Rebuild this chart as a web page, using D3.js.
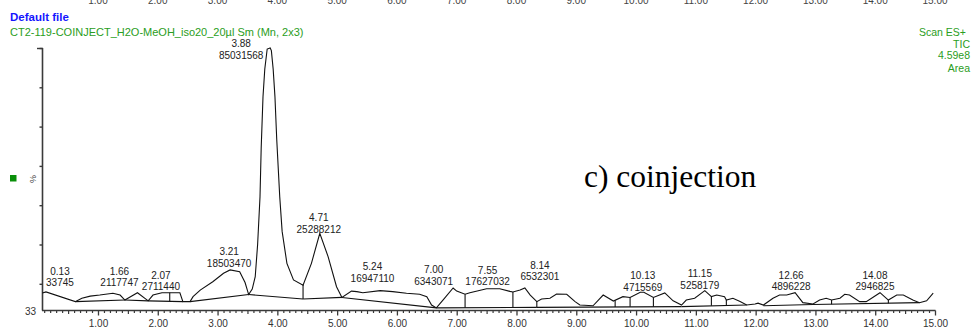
<!DOCTYPE html>
<html><head><meta charset="utf-8">
<script src="https://cdn.jsdelivr.net/npm/d3@7"></script>
<style>body{margin:0;background:#fff}svg{display:block}</style>
</head><body>
<svg id="c" width="973" height="329"></svg>
<script>
// ---- data (retention time in min, relative intensity in %) ----
const traceTimes = [0.07,0.13,0.62,0.73,0.87,1.03,1.25,1.37,1.45,1.66,1.84,1.92,2.07,2.37,2.42,2.54,2.59,2.71,2.92,3.10,3.21,3.37,3.46,3.52,
  3.58,3.63,3.67,3.71,3.73,3.76,3.79,3.83,3.88,3.90,3.93,3.96,3.99,4.04,4.08,4.16,4.27,4.43,4.57,4.71,4.85,4.99,5.08,5.24,5.33,5.43,5.72,5.93,
  6.16,6.38,6.50,6.58,6.66,6.77,6.94,7.00,7.14,7.22,7.50,7.72,7.89,7.94,8.06,8.14,8.23,8.34,8.42,8.56,8.67,8.84,8.98,9.06,9.28,9.45,9.62,9.78,
  9.90,10.07,10.13,10.29,10.48,10.62,10.76,10.84,10.98,11.15,11.26,11.35,11.48,11.51,11.62,11.74,11.85,11.99,12.04,12.13,12.29,12.40,12.52,12.66,
  12.79,12.96,13.07,13.18,13.27,13.41,13.49,13.57,13.74,13.85,14.08,14.22,14.36,14.47,14.63,14.74,14.86,14.97];
const traceIntensity = [6.5,6.9,3.2,4.5,5.3,5.7,6.4,5.7,3.8,6.6,3.5,5.7,6.6,6.6,3.2,3.2,5.1,7.6,10.8,14.0,15.3,14.6,10.5,5.9,
  8.0,12.7,25.0,43.2,62.0,81.4,92.0,99.6,100,99.0,92.0,81.4,65.0,43.2,30.0,17.8,11.5,9.5,17.8,29.3,20.3,8.9,4.8,7.2,7.0,6.6,7.4,7.0,
  6.4,6.0,5.1,1.9,0.8,3.8,8.4,7.2,6.0,6.6,8.1,8.1,7.1,6.9,7.6,8.4,5.7,3.2,4.2,4.5,6.1,6.0,3.2,1.9,1.6,5.7,3.4,5.1,
  4.8,6.8,6.8,4.8,6.5,3.5,1.9,3.8,4.5,7.4,5.1,5.7,5.1,3.8,4.5,3.2,1.9,2.3,2.6,1.9,4.5,5.7,5.7,6.6,
  2.8,2.3,3.8,4.5,3.8,4.5,6.0,5.7,3.2,3.2,6.6,3.8,5.7,5.7,3.8,2.8,3.5,6.4];

// integration baselines: [start time, start %, end time, end %]
const baselineStart = [0.62,1.45,1.84,2.54,3.52,4.43,5.08,6.66,8.34,10.76,12.13,12.96];
const baselineStartI = [3.2,3.8,3.5,3.2,5.9,4.2,4.8,0.8,1.0,1.3,1.6,2.1];
const baselineEnd = [1.45,1.84,2.42,3.52,4.43,5.08,6.66,8.34,10.76,11.85,12.96,14.74];
const baselineEndI = [3.8,3.5,3.2,5.9,4.2,4.8,0.8,1.0,1.3,1.9,2.1,2.8];
// peak separation drop-line times
const dropTimes = [2.20,4.43,7.14,7.94,8.34,9.65,9.90,10.29,11.26,11.51,13.27,14.22];

// labelled peaks
const peakTimes = [0.13,1.66,2.07,3.21,3.88,4.71,5.24,7.00,7.55,8.14,10.13,11.15,12.66,14.08];
const peakAreas = ["33745","2117747","2711440","18503470","85031568","25288212","16947110","6343071","17627032","6532301","4715569","5258179","4896228","2946825"];

const xTicks = [1,2,3,4,5,6,7,8,9,10,11,12,13,14,15];
const yTicks = [100,85,70,55,40,25,10];

// ---- layout ----
const labelDx = [14,-18,-1,-1,-29,-1,21,-23,-2,15,-1,-5,-4,-5];
const labelDy = [-9,-10,-6,-6.6,7,-4,-13,-10,-7,-11,-5,-5.6,-6,-6];

const svg = d3.select("#c");
const x = d3.scaleLinear().domain([0,15]).range([38.2,935]);
const y = d3.scaleLinear().domain([0,100]).range([310,48]);
const sans = "'Liberation Sans', Arial, sans-serif";
const green = "#2a9d22";

// top cut-off axis labels (from previous panel, clipped by the image edge)
svg.append("g").selectAll("text").data(xTicks).join("text")
  .attr("x", d=>x(d)).attr("y", 4).attr("text-anchor","middle")
  .attr("font-family", sans).attr("font-size", 10).attr("fill","#444")
  .text(d=>d3.format(".2f")(d));

// header
svg.append("text").attr("x",10).attr("y",21).attr("font-family",sans).attr("font-size",11.5)
  .attr("font-weight","bold").attr("fill","#1515ff").text("Default file");
svg.append("text").attr("x",10).attr("y",36).attr("font-family",sans).attr("font-size",11)
  .attr("fill",green).text("CT2-119-COINJECT_H2O-MeOH_iso20_20µl Sm (Mn, 2x3)");
const rt = ["Scan ES+","TIC","4.59e8","Area"], rty=[36,47.5,59,72], rtx=[966,970,970,970];
svg.append("g").selectAll("text").data(rt).join("text")
  .attr("x",(d,i)=>rtx[i]).attr("y",(d,i)=>rty[i]).attr("text-anchor","end")
  .attr("font-family",sans).attr("font-size",10.5).attr("fill",green).text(d=>d);

// left marker
svg.append("rect").attr("x",10).attr("y",175).attr("width",6.5).attr("height",6.5).attr("fill","#0a8f0a");
svg.append("text").attr("transform","translate(36,179) rotate(-90)").attr("text-anchor","middle")
  .attr("font-family",sans).attr("font-size",9).attr("fill","#444").text("%");

// axes
const axisColor = "#3a3a3a";
const yAx = svg.append("g").attr("transform","translate(42.5,0)")
  .call(d3.axisLeft(y).tickValues(yTicks).tickSize(3).tickFormat(""));
yAx.select(".domain").remove();
yAx.selectAll("line").attr("stroke",axisColor).attr("stroke-width",1.4);
svg.append("line").attr("x1",37).attr("x2",43).attr("y1",48.5).attr("y2",48.5).attr("stroke",axisColor).attr("stroke-width",1.4);
svg.append("line").attr("x1",42.5).attr("x2",42.5).attr("y1",48).attr("y2",310.5).attr("stroke",axisColor).attr("stroke-width",1.6);
svg.append("line").attr("x1",42).attr("x2",935.5).attr("y1",310.5).attr("y2",310.5).attr("stroke",axisColor).attr("stroke-width",1.6);

const minor = d3.range(1,151).map(d=>d/10).filter(d=>Math.abs(d*2-Math.round(d*2))>1e-6);
const mid = d3.range(1,30,2).map(d=>d/2);
function tickG(vals,size){
  const g = svg.append("g").attr("transform","translate(0,310.5)")
    .call(d3.axisBottom(x).tickValues(vals).tickSize(size).tickFormat(""));
  g.select(".domain").remove();
  g.selectAll("line").attr("stroke",axisColor).attr("stroke-width",1.2);
  return g;
}
tickG(minor,2.5); tickG(mid,3.5);
const xAx = svg.append("g").attr("transform","translate(0,310.5)")
  .call(d3.axisBottom(x).tickValues(xTicks).tickSize(5).tickPadding(4).tickFormat(d3.format(".2f")));
xAx.select(".domain").remove();
xAx.selectAll("line").attr("stroke",axisColor).attr("stroke-width",1.3);
xAx.selectAll("text").attr("font-family",sans).attr("font-size",10).attr("fill","#333");

svg.append("text").attr("x",36).attr("y",314.5).attr("text-anchor","end")
  .attr("font-family",sans).attr("font-size",10).attr("fill","#333").text("33");

// trace
const trace = traceTimes.map((t,i)=>[t,traceIntensity[i]]);
const interp = t => {
  const i = d3.bisector(d=>d[0]).left(trace,t);
  if (i<=0) return trace[0][1];
  if (i>=trace.length) return trace[trace.length-1][1];
  const a=trace[i-1], b=trace[i];
  return a[1]+(b[1]-a[1])*(t-a[0])/(b[0]-a[0]);
};
const baseAt = t => {
  for (let i=0;i<baselineStart.length;i++){
    if (t>=baselineStart[i]-1e-9 && t<=baselineEnd[i]+1e-9){
      return baselineStartI[i]+(baselineEndI[i]-baselineStartI[i])*(t-baselineStart[i])/(baselineEnd[i]-baselineStart[i]);
    }
  }
  return 0;
};
const line = d3.line().x(d=>x(d[0])).y(d=>y(d[1]));
svg.append("path").datum(trace).attr("d",line).attr("fill","none").attr("stroke","#111").attr("stroke-width",1.1);

// baselines
svg.append("g").selectAll("line").data(baselineStart).join("line")
  .attr("x1",(d,i)=>x(d)).attr("y1",(d,i)=>y(baselineStartI[i]))
  .attr("x2",(d,i)=>x(baselineEnd[i])).attr("y2",(d,i)=>y(baselineEndI[i]))
  .attr("stroke","#111").attr("stroke-width",1.1);
// drop lines
svg.append("g").selectAll("line").data(dropTimes).join("line")
  .attr("x1",d=>x(d)).attr("x2",d=>x(d)).attr("y1",d=>y(interp(d))).attr("y2",d=>y(baseAt(d)))
  .attr("stroke","#111").attr("stroke-width",1.1);

// peak labels
const lg = svg.append("g").attr("font-family",sans).attr("font-size",10).attr("fill","#222").attr("text-anchor","middle");
peakTimes.forEach((t,i)=>{
  const cx = x(t)+labelDx[i], by = y(interp(t))+labelDy[i]+3.5;
  lg.append("text").attr("x",cx).attr("y",by-11.5).text(d3.format(".2f")(t));
  lg.append("text").attr("x",cx).attr("y",by).text(peakAreas[i]);
});

// annotation
svg.append("text").attr("x",584).attr("y",187).attr("font-family","'Liberation Serif','Times New Roman',serif")
  .attr("font-size",31.5).attr("fill","#000").text("c) coinjection");
</script>
</body></html>
